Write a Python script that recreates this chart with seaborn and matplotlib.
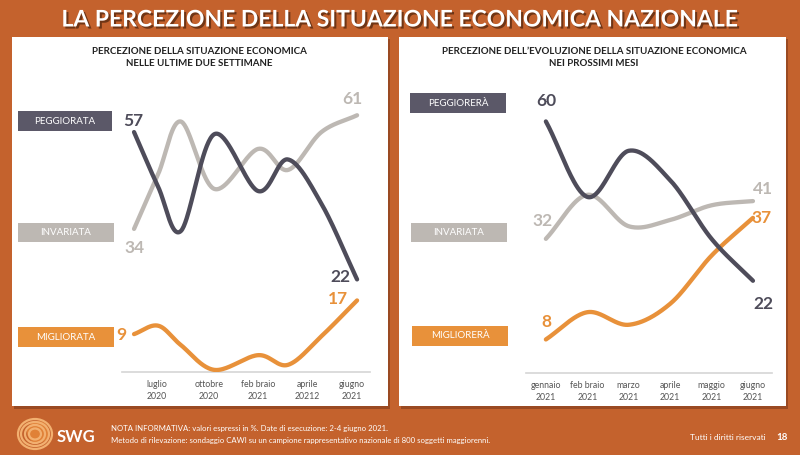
import numpy as np
import pandas as pd
import matplotlib
matplotlib.use("Agg")
import matplotlib.pyplot as plt
import matplotlib.patheffects as pe
from matplotlib.patches import Rectangle, Ellipse
import seaborn as sns

# ---------------- data ----------------
left_pos = [0, 1.08, 2.1, 3.6, 5.56, 6.9, 8.4, 10]
left_peggiorata = [57, 44, 33.5, 56.5, 43, 50.5, 40, 22]
left_invariata = [34, 47, 59.5, 43.5, 53, 48, 57, 61]
left_migliorata = [9, 11, 6.4, 0.5, 4, 1.7, 8.5, 17]
left_tick_pos = [1.03, 3.36, 5.56, 7.76, 9.78]
left_tick_labels = ["luglio\n2020", "ottobre\n2020", "feb braio\n2021", "aprile\n20212", "giugno\n2021"]

right_pos = [0, 1, 2, 3, 4, 5]
right_peggiorera = [60, 42, 53, 46, 32, 22]
right_invariata = [32, 42.5, 35, 36.5, 40, 41]
right_migliorera = [8, 14.5, 11.5, 16.5, 28, 37]
right_tick_labels = ["gennaio\n2021", "feb braio\n2021", "marzo\n2021", "aprile\n2021", "maggio\n2021", "giugno\n2021"]

title = "LA PERCEZIONE DELLA SITUAZIONE ECONOMICA NAZIONALE"
left_title = "PERCEZIONE DELLA SITUAZIONE ECONOMICA\nNELLE ULTIME DUE SETTIMANE"
right_title = "PERCEZIONE DELL\u2019EVOLUZIONE DELLA SITUAZIONE ECONOMICA\nNEI PROSSIMI MESI"
left_series = ["PEGGIORATA", "INVARIATA", "MIGLIORATA"]
right_series = ["PEGGIORERÀ", "INVARIATA", "MIGLIORERÀ"]
note1 = "NOTA INFORMATIVA: valori espressi in %. Date di esecuzione: 2-4 giugno 2021."
note2 = "Metodo di rilevazione: sondaggio CAWI su un campione rappresentativo nazionale di 800 soggetti maggiorenni."

# ---------------- style ----------------
sns.set_theme(style="white")
plt.rcParams["font.family"] = ["Lato", "DejaVu Sans"]

BG = "#C4622D"
DARK = "#4E4C5A"
GRAY = "#BDB8B3"
ORANGE = "#E8913A"
BOX_DARK = "#5B5868"

W, H = 800, 455
fig = plt.figure(figsize=(W / 100, H / 100), dpi=100, facecolor=BG)


def fx(x):
    return x / W


def fy(y):
    return 1 - y / H


def rect_px(x0, y0, x1, y1, color, z=-5):
    r = Rectangle((fx(x0), fy(y1)), (x1 - x0) / W, (y1 - y0) / H,
                  transform=fig.transFigure, facecolor=color, edgecolor="none", zorder=z)
    fig.patches.append(r)


def smooth(x, y, n=40):
    pts = np.column_stack([x, y]).astype(float)
    P = np.vstack([2 * pts[0] - pts[1], pts, 2 * pts[-1] - pts[-2]])
    out = []
    t = np.linspace(0, 1, n, endpoint=False)[:, None]
    for i in range(1, len(P) - 2):
        p0, p1, p2, p3 = P[i - 1], P[i], P[i + 1], P[i + 2]
        seg = 0.5 * ((2 * p1) + (-p0 + p2) * t + (2 * p0 - 5 * p1 + 4 * p2 - p3) * t ** 2
                     + (-p0 + 3 * p1 - 3 * p2 + p3) * t ** 3)
        out.append(seg)
    out.append(pts[-1:])
    return np.vstack(out)


# panels with shadow
rect_px(14, 39, 390, 409, "#9A4A22", z=-6)
rect_px(12, 37, 388, 406, "white")
rect_px(401, 39, 788, 409, "#9A4A22", z=-6)
rect_px(399, 37, 786, 406, "white")

# title
fig.text(fx(400), fy(20), title, ha="center", va="center", color="white",
         fontsize=16.5, fontweight="bold",
         family=["Liberation Sans Narrow", "Lato", "DejaVu Sans"],
         path_effects=[pe.withSimplePatchShadow(offset=(1.5, -1.5), shadow_rgbFace="#5a2a10", alpha=0.8)])

# panel titles
fig.text(fx(199), fy(57.5), left_title, ha="center", va="center", color="#222222",
         fontsize=7, fontweight="bold", linespacing=1.45)
fig.text(fx(594), fy(57.5), right_title, ha="center", va="center", color="#222222",
         fontsize=7, fontweight="bold", linespacing=1.45)

# label boxes
def label_box(x0, y0, x1, y1, color, text, tcolor="white"):
    rect_px(x0, y0, x1, y1, color, z=2)
    fig.text(fx((x0 + x1) / 2), fy((y0 + y1) / 2), text, ha="center", va="center",
             color=tcolor, fontsize=7, zorder=3)


label_box(18, 111, 112, 131, BOX_DARK, left_series[0])
label_box(18, 223, 114, 242, GRAY, left_series[1])
label_box(18, 327, 114, 347, ORANGE, left_series[2])
label_box(410, 93, 506, 113, BOX_DARK, right_series[0])
label_box(411, 223, 507, 242, GRAY, right_series[1])
label_box(412, 326, 508, 346, ORANGE, right_series[2])

# axes
axL = fig.add_axes([122 / W, (H - 372) / H, 248 / W, 282 / H])
axR = fig.add_axes([526 / W, (H - 373) / H, 246 / W, 283 / H])


def draw_series(ax, xs, ys, color, z):
    s = smooth(xs, ys)
    df = pd.DataFrame({"x": s[:, 0], "y": s[:, 1]})
    sns.lineplot(data=df, x="x", y="y", ax=ax, color=color, linewidth=3.1,
                 sort=False, estimator=None, zorder=z, solid_capstyle="round")


draw_series(axL, left_pos, left_invariata, GRAY, 2)
draw_series(axL, left_pos, left_migliorata, ORANGE, 3)
draw_series(axL, left_pos, left_peggiorata, DARK, 4)

draw_series(axR, right_pos, right_invariata, GRAY, 2)
draw_series(axR, right_pos, right_migliorera, ORANGE, 3)
draw_series(axR, right_pos, right_peggiorera, DARK, 4)

axL.set_xlim(-0.54, 10.58)
axL.set_ylim(0, 67)
axR.set_xlim(-0.48, 5.46)
axR.set_ylim(0, 67.5)

for ax, ticks, labels in [(axL, left_tick_pos, left_tick_labels),
                          (axR, right_pos, right_tick_labels)]:
    ax.set_facecolor("none")
    ax.set_xticks(ticks)
    ax.set_xticklabels(labels, fontsize=6.3, color="#555555", linespacing=1.35)
    ax.set_yticks([])
    ax.tick_params(axis="x", length=0, pad=6)
    ax.set_xlabel("")
    ax.set_ylabel("")
    for sp in ["top", "right", "left"]:
        ax.spines[sp].set_visible(False)
    ax.spines["bottom"].set_color("#D5D5D5")
    ax.spines["bottom"].set_linewidth(1.2)


def value_label(ax, x, y, dx, dy, color):
    ax.annotate(f"{y:g}", xy=(x, y), xytext=(dx, dy), textcoords="offset pixels",
                ha="center", va="center", fontsize=12.5, fontweight="bold", color=color,
                annotation_clip=False, zorder=6)


value_label(axL, left_pos[0], left_peggiorata[0], -1, 11, DARK)
value_label(axL, left_pos[0], left_invariata[0], 0, -19, GRAY)
value_label(axL, left_pos[0], left_migliorata[0], -13, -1, ORANGE)
value_label(axL, left_pos[-1], left_invariata[-1], -5, 16, GRAY)
value_label(axL, left_pos[-1], left_peggiorata[-1], -17, 2, DARK)
value_label(axL, left_pos[-1], left_migliorata[-1], -19, 1, ORANGE)

value_label(axR, right_pos[0], right_peggiorera[0], 0, 20, DARK)
value_label(axR, right_pos[0], right_invariata[0], -3, 18, GRAY)
value_label(axR, right_pos[0], right_migliorera[0], 0, 17, ORANGE)
value_label(axR, right_pos[-1], right_invariata[-1], 10, 12, GRAY)
value_label(axR, right_pos[-1], right_migliorera[-1], 9, 0, ORANGE)
value_label(axR, right_pos[-1], right_peggiorera[-1], 10, -23, DARK)

# footer
fig.text(fx(111), fy(428), note1, ha="left", va="center", color="white", fontsize=5.6)
fig.text(fx(111), fy(441), note2, ha="left", va="center", color="white", fontsize=5.6)
fig.text(fx(766), fy(437), "Tutti i diritti riservati", ha="right", va="center",
         color="white", fontsize=6)
fig.text(fx(782), fy(437), "18", ha="center", va="center", color="white",
         fontsize=7, fontweight="bold")

# logo
for i, (w, h, ang) in enumerate([(34, 30, 20), (28, 24, -30), (20, 18, 60), (12, 11, 0)]):
    e = Ellipse((fx(35), fy(434)), w / W, h / H, angle=0, transform=fig.transFigure,
                facecolor="none", edgecolor="#F2B070", linewidth=1.6, zorder=2)
    fig.patches.append(e)
e = Ellipse((fx(38), fy(432)), 22 / W, 22 / H, transform=fig.transFigure,
            facecolor="#E88A3A", edgecolor="none", zorder=1, alpha=0.8)
fig.patches.append(e)
fig.text(fx(76), fy(437), "SWG", ha="center", va="center", color="white",
         fontsize=12, fontweight="bold")

fig.savefig("out.png", dpi=100, facecolor=BG)
